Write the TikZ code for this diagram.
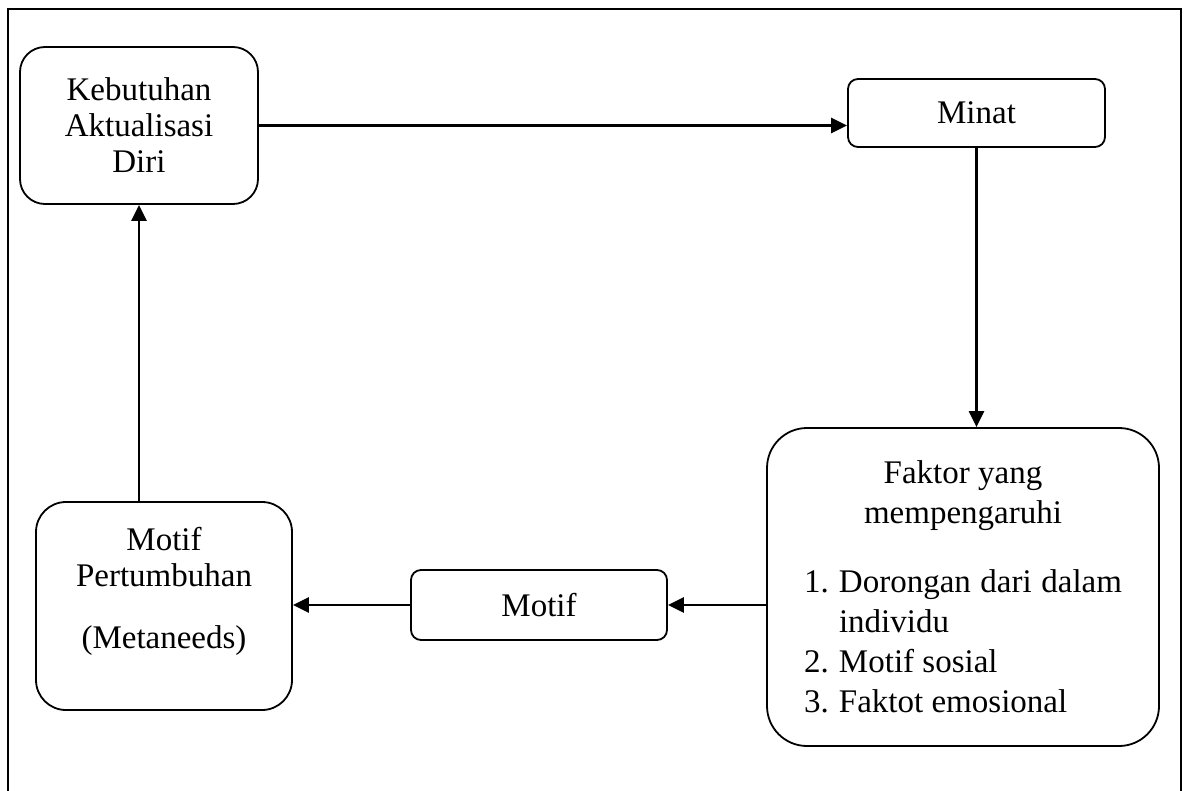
\documentclass[tikz,border=0pt]{standalone}
\usepackage{fontspec}
\setmainfont{Liberation Serif}
\usepackage{tikz}
\usetikzlibrary{arrows.meta}
\tikzstyle{arrow} = [line width=1.2pt, -{Triangle[length=8pt,width=7.5pt]}]
\tikzstyle{task} = [draw, line width=0.9pt, align=center, inner sep=2pt]
\tikzstyle{frame} = [line width=1pt]

\begin{document}
\begin{tikzpicture}[x=0.5pt,y=-0.5pt,
    every node/.style={font=\fontsize{16.5pt}{18pt}\selectfont}]
    \fill[white] (0,0) rectangle (1187,791);
    \useasboundingbox (0,0) rectangle (1187,791);
    \draw[frame] (8,791) -- (8,9) -- (1181,9) -- (1181,791);
    \node[task,rounded corners=12.5pt,minimum width=119pt,minimum height=78.5pt]
        (kebutuhan) at (139,125.5) {Kebutuhan\\Aktualisasi\\Diri};
    \node[task,rounded corners=5pt,minimum width=128.5pt,minimum height=34pt]
        (minat) at (976.5,113) {Minat};
    \node[task,rounded corners=20pt,minimum width=196pt,minimum height=159pt,
        text width=159pt,align=justify,font=\fontsize{16.5pt}{20pt}\selectfont]
        (faktor) at (963,587)
        {\hyphenpenalty=10000
         {\centering Faktor yang\\ mempengaruhi\par}\vspace{14.5pt}%
         \noindent\hangindent=17.5pt\hangafter=1\makebox[17.5pt][l]{1.}Dorongan dari dalam individu\par
         \noindent\makebox[17.5pt][l]{2.}Motif sosial\par
         \noindent\makebox[17.5pt][l]{3.}Faktot emosional\par};
    \node[task,rounded corners=5pt,minimum width=128pt,minimum height=35pt]
        (motif) at (539,605) {Motif};
    \node[task,rounded corners=15pt,minimum width=128pt,minimum height=104pt]
        (pertumbuhan) at (164,606) {Motif\\Pertumbuhan\\[13pt](Metaneeds)\\~};
    \draw[arrow] (kebutuhan.east) -- (kebutuhan.east -| minat.west);
    \draw[arrow] (minat.south) -- (minat.south |- faktor.north);
    \draw[arrow] (faktor.west |- motif) -- (motif.east);
    \draw[arrow] (motif.west) -- (motif.west -| pertumbuhan.east);
    \draw[arrow] (kebutuhan.south |- pertumbuhan.north) -- (kebutuhan.south);
\end{tikzpicture}
\end{document}
